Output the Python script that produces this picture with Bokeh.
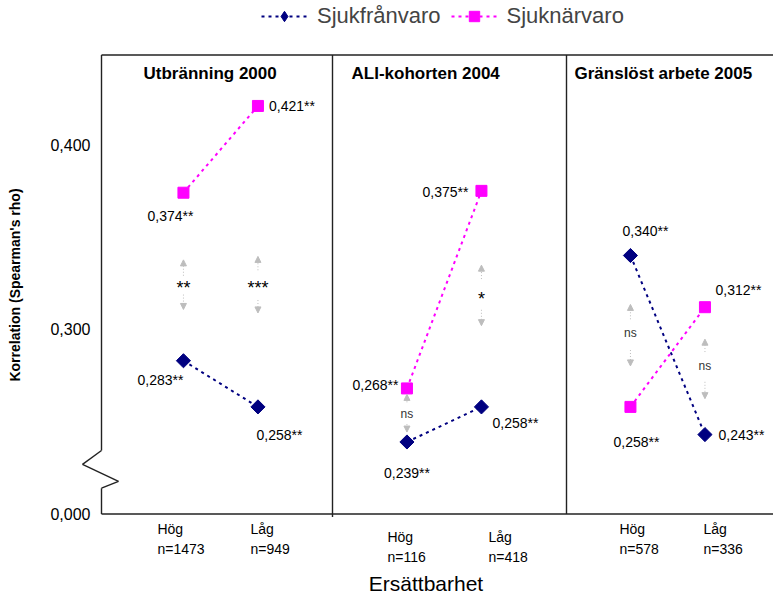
import numpy as np
from bokeh.plotting import figure
from bokeh.models import (Range1d, ColumnDataSource, Arrow, NormalHead, Legend,
                          LegendItem, FixedTicker)
from bokeh.core.properties import value
from bokeh.embed import file_html
from bokeh.resources import INLINE

# ---------------- data ----------------
groups = ["Utbränning 2000", "ALI-kohorten 2004", "Gränslöst arbete 2005"]
levels = ["Hög", "Låg"]
n_sizes = [1473, 949, 116, 418, 578, 336]
sjukfranvaro = [0.283, 0.258, 0.239, 0.258, 0.340, 0.243]
sjuknarvaro = [0.374, 0.421, 0.268, 0.375, 0.258, 0.312]
sig_franvaro = ["**", "**", "**", "**", "**", "**"]
sig_narvaro = ["**", "**", "**", "**", "**", "**"]
diff_sig = ["**", "***", "ns", "*", "ns", "ns"]
y_ticks = [0.4, 0.3, 0.2]
y_tick_labels = ["0,400", "0,300", "0,000"]
series_names = ["Sjukfrånvaro", "Sjuknärvaro"]
x_title = "Ersättbarhet"
y_title = "Korrelation (Spearman's rho)"

# ---------------- layout ----------------
W, H = 773, 597
FL, FB = 78, 574                         # frame left / bottom (px in figure)
UX, UY = 74.5, 1862.6                    # px per data unit
AX_PX, AX_X = 101, -0.1                  # x px of the axis line and its data value
BASE_PX, Y_BASE = 518, 0.2               # y px of the axis base (0,000 break level)


def px_x(px):
    return AX_X + (px - AX_PX) / UX


def px_y(py):
    return Y_BASE + (BASE_PX - py) / UY


FONT = value("Liberation Sans")
NAVY = "#000080"
MAGENTA = "#FF00FF"
GRAY = "#BDBDBD"

xpos = [g * 3 + l + 1 for g in range(len(groups)) for l in range(len(levels))]

p = figure(width=W, height=H, x_range=Range1d(px_x(FL), px_x(W)),
           y_range=Range1d(px_y(FB), px_y(0)), output_backend="svg",
           toolbar_location=None,
           min_border_left=FL, min_border_right=0, min_border_top=0,
           min_border_bottom=H - FB)
p.grid.visible = False
p.outline_line_color = None
p.background_fill_color = "white"
p.border_fill_color = "white"

ay = p.yaxis[0]
ay.ticker = FixedTicker(ticks=y_ticks)
ay.major_label_overrides = {t: l for t, l in zip(y_ticks, y_tick_labels)}
ay.axis_line_color = None
ay.major_tick_line_color = None
ay.minor_tick_line_color = None
ay.major_tick_out = 0
ay.major_tick_in = 0
ay.major_label_standoff = -12
ay.major_label_text_font = "Liberation Sans"
ay.major_label_text_font_size = "16px"
ay.major_label_text_color = "black"
ay.axis_label = y_title
ay.axis_label_text_font = "Liberation Sans"
ay.axis_label_text_font_size = "14px"
ay.axis_label_text_font_style = "bold"
ay.axis_label_text_color = "black"
ay.axis_label_standoff = 24

axx = p.xaxis[0]
axx.ticker = FixedTicker(ticks=[])
axx.axis_line_color = None
axx.major_tick_line_color = None
axx.minor_tick_line_color = None
axx.major_tick_out = 0
axx.major_tick_in = 0
axx.major_label_standoff = 0
axx.axis_label = x_title
axx.axis_label_text_font = "Liberation Sans"
axx.axis_label_text_font_size = "21px"
axx.axis_label_text_font_style = "normal"
axx.axis_label_text_color = "black"
axx.axis_label_standoff = 2

# ---------------- frame lines with axis break ----------------
frame = ColumnDataSource(dict(
    x0=[px_x(101), px_x(101), px_x(101), px_x(82), px_x(118), px_x(101), px_x(101), px_x(332), px_x(566)],
    y0=[px_y(55), px_y(55), px_y(454), px_y(468), px_y(485), px_y(492), px_y(518), px_y(55), px_y(55)],
    x1=[px_x(W), px_x(101), px_x(82), px_x(118), px_x(101), px_x(101), px_x(W), px_x(332), px_x(566)],
    y1=[px_y(55), px_y(454), px_y(468), px_y(485), px_y(492), px_y(518), px_y(518), px_y(521), px_y(518)],
))
p.segment("x0", "y0", "x1", "y1", source=frame, line_color="#222222", line_width=1.4)

# ---------------- series ----------------
def broken(vals):
    xs, ys = [], []
    for g in range(len(groups)):
        xs += [xpos[2 * g], xpos[2 * g + 1], np.nan]
        ys += [vals[2 * g], vals[2 * g + 1], np.nan]
    return xs, ys


fx, fy = broken(sjukfranvaro)
nx, ny = broken(sjuknarvaro)
l1 = p.line(fx, fy, line_color=NAVY, line_width=2, line_dash="3 4")
# diamond marker used for the legend swatch (hidden under the plotted markers)
s1_leg = p.scatter(xpos, sjukfranvaro, marker="diamond", size=1, fill_color=NAVY, line_color=NAVY)
s1 = p.scatter(xpos, sjukfranvaro, marker="square", angle=np.pi / 4, size=10,
               fill_color=NAVY, line_color=NAVY)
l2 = p.line(nx, ny, line_color=MAGENTA, line_width=2, line_dash="3 4")
s2 = p.scatter(xpos, sjuknarvaro, marker="square", size=11,
               fill_color=MAGENTA, line_color=MAGENTA)

legend = Legend(items=[LegendItem(label=series_names[0], renderers=[l1, s1_leg]),
                       LegendItem(label=series_names[1], renderers=[l2, s2])],
                location=(183, FB - 8 - 26), orientation="horizontal", glyph_width=46,
                glyph_height=26, label_text_font="Liberation Sans",
                label_text_font_size="22px", border_line_color=None,
                background_fill_alpha=0, padding=0, margin=0, spacing=10,
                label_standoff=10, label_height=26)
p.add_layout(legend)

# ---------------- value labels ----------------
OFF_F = [(-23, 19, "center"), (21.5, 28, "center"), (0, 31, "center"),
         (11, 16, "left"), (15, -24, "center"), (13.5, 0, "left")]
OFF_N = [(-13, 23, "center"), (11, 0, "left"), (-8.5, -3, "right"),
         (-13, 1, "right"), (6, 35, "center"), (10.5, -17, "left")]


def fmt(v, s):
    return f"{v:.3f}".replace(".", ",") + s


lab = dict(x=[], y=[], t=[], dx=[], dy=[], al=[])
for vals, sigs, offs in ((sjukfranvaro, sig_franvaro, OFF_F), (sjuknarvaro, sig_narvaro, OFF_N)):
    for i, v in enumerate(vals):
        lab["x"].append(xpos[i]); lab["y"].append(v); lab["t"].append(fmt(v, sigs[i]))
        lab["dx"].append(offs[i][0]); lab["dy"].append(offs[i][1]); lab["al"].append(offs[i][2])
p.text("x", "y", text="t", x_offset="dx", y_offset="dy", text_align="al",
       text_baseline="middle", text_font=FONT, text_font_size="14px",
       text_color="black", source=ColumnDataSource(lab))

# ---------------- significance arrows ----------------
SIG_SHIFT = [6, 27, -1, -5, 2, -5]
UP_TAIL = [7, 13, 12, 15, 14, 14]
UP_TIP = [23, 27, 20, 29, 29, 27]
DN_TAIL = [12, 17, 10, 16, 17, 16]
DN_TIP = [27, 30, 18, 32, 33, 33]
mid = [(a + b) / 2 - s / UY for a, b, s in zip(sjukfranvaro, sjuknarvaro, SIG_SHIFT)]
up = ColumnDataSource(dict(x=xpos, y0=[m + t / UY for m, t in zip(mid, UP_TAIL)],
                           y1=[m + t / UY for m, t in zip(mid, UP_TIP)]))
dn = ColumnDataSource(dict(x=xpos, y0=[m - t / UY for m, t in zip(mid, DN_TAIL)],
                           y1=[m - t / UY for m, t in zip(mid, DN_TIP)]))
for src in (up, dn):
    p.add_layout(Arrow(source=src, x_start="x", y_start="y0", x_end="x", y_end="y1",
                       line_color=GRAY, line_width=1, line_dash="1 2",
                       end=NormalHead(size=6, fill_color=GRAY, line_color=GRAY)))
sig_src = ColumnDataSource(dict(
    x=xpos, y=mid, t=diff_sig,
    fs=["12px" if s == "ns" else "18px" for s in diff_sig],
    c=["#333333" if s == "ns" else "black" for s in diff_sig],
    dy=[0 if s == "ns" else 5 for s in diff_sig]))
p.text("x", "y", text="t", y_offset="dy", text_align="center", text_baseline="middle",
       text_font=FONT, text_font_size="fs", text_color="c", source=sig_src)

# ---------------- panel titles ----------------
TITLE_PX = [143, 351, 574]
p.text([px_x(v) for v in TITLE_PX], [px_y(74)] * 3, text=groups, text_align="left",
       text_baseline="middle", text_font=FONT, text_font_size="17px",
       text_font_style="bold", text_color="black")

# ---------------- level labels ----------------
LVL_DX = [-26, -7.5, -19.5, 7, -11, -1.5]
LVL_PY = [533, 533, 541, 541, 533, 533]
lv = dict(x=xpos, y1=[px_y(v) for v in LVL_PY], y2=[px_y(v + 20) for v in LVL_PY],
          t1=[levels[i % 2] for i in range(6)], t2=[f"n={n}" for n in n_sizes], dx=LVL_DX)
lsrc = ColumnDataSource(lv)
for yk, tk in (("y1", "t1"), ("y2", "t2")):
    p.text("x", yk, text=tk, x_offset="dx", text_align="left", text_baseline="middle",
           text_font=FONT, text_font_size="14px", text_color="black", source=lsrc)

open("out.html", "w").write(file_html(p, INLINE))
